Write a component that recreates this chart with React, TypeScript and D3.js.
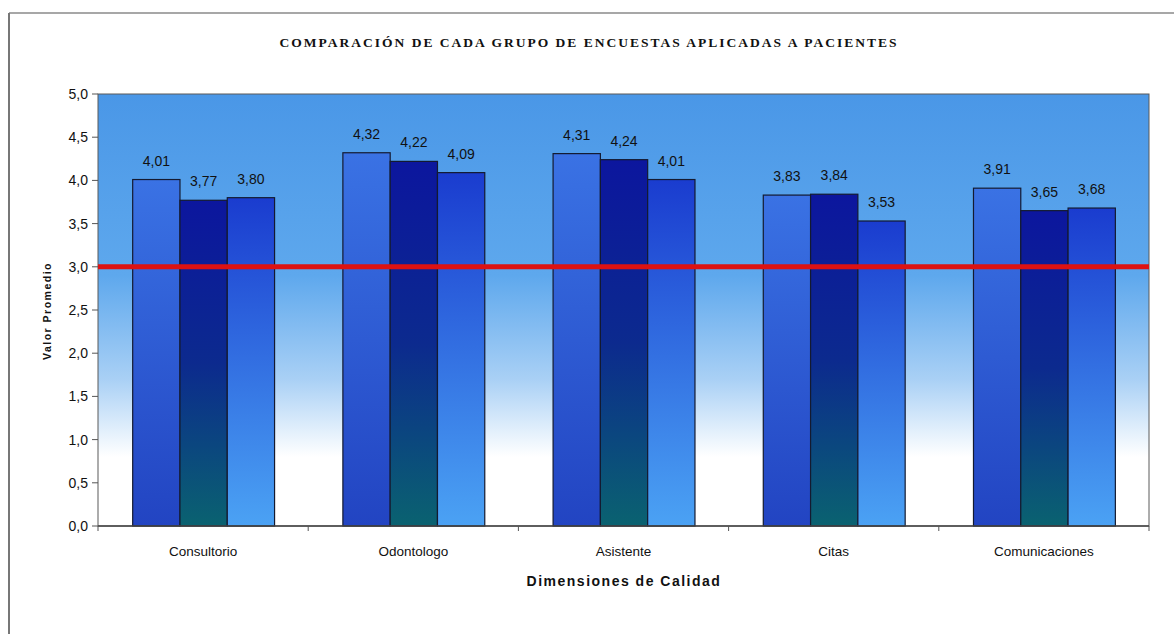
import React from "react";
import * as d3 from "d3";

// Survey dimensions and the average score of each survey group
const categories = ["Consultorio", "Odontologo", "Asistente", "Citas", "Comunicaciones"];
const seriesNames = ["Grupo 1", "Grupo 2", "Grupo 3"];
const grupo1 = [4.01, 4.32, 4.31, 3.83, 3.91];
const grupo2 = [3.77, 4.22, 4.24, 3.84, 3.65];
const grupo3 = [3.8, 4.09, 4.01, 3.53, 3.68];
const yTicks = [0, 0.5, 1, 1.5, 2, 2.5, 3, 3.5, 4, 4.5, 5];
const referenceValue = 3.0;

const W = 1174;
const H = 637;
const plot = { left: 98, right: 1149, top: 94, bottom: 526 };

// Vertical gradient stops per series (top -> bottom)
const barGradients = [
  [
    [0, "#3a72e4"],
    [1, "#2244c2"],
  ],
  [
    [0, "#0c169e"],
    [0.5, "#0c2a8e"],
    [1, "#0a6270"],
  ],
  [
    [0, "#1a3ccf"],
    [1, "#4ba2f4"],
  ],
];

const fmt = (v: number, digits: number) => v.toFixed(digits).replace(".", ",");

export default function App() {
  const values = [grupo1, grupo2, grupo3];
  const x0 = d3.scaleBand<string>().domain(categories).range([plot.left, plot.right]).padding(0);
  const step = x0.bandwidth();
  const x1 = d3
    .scaleBand<number>()
    .domain(seriesNames.map((_, i) => i))
    .range([step * 0.165, step * 0.84])
    .padding(0);
  const y = d3.scaleLinear().domain([0, 5]).range([plot.bottom, plot.top]);

  return (
    <svg
      width={W}
      height={H}
      style={{ position: "absolute", left: 0, top: 0, background: "#fff" }}
      fontFamily="Arial, 'Liberation Sans', sans-serif"
    >
      <defs>
        <linearGradient id="plotBg" x1="0" y1="0" x2="0" y2="1">
          <stop offset="0" stopColor="#4a97e7" />
          <stop offset="0.42" stopColor="#5ea8ed" />
          <stop offset="0.66" stopColor="#a9d0f5" />
          <stop offset="0.84" stopColor="#ffffff" />
          <stop offset="1" stopColor="#ffffff" />
        </linearGradient>
        {barGradients.map((stops, i) => (
          <linearGradient key={i} id={`bar${i}`} x1="0" y1="0" x2="0" y2="1">
            {stops.map(([o, c], j) => (
              <stop key={j} offset={o as number} stopColor={c as string} />
            ))}
          </linearGradient>
        ))}
      </defs>

      {/* chart frame */}
      <line x1={9} x2={W} y1={13} y2={13} stroke="#8a8a8a" strokeWidth={1.5} />
      <line x1={9} x2={9} y1={13} y2={634} stroke="#777" strokeWidth={2} />

      <text
        x={589}
        y={47}
        textAnchor="middle"
        fontFamily="'Liberation Serif', 'Times New Roman', serif"
        fontWeight="bold"
        fontSize={13.5}
        letterSpacing={2}
        fill="#111"
      >
        COMPARACIÓN DE CADA GRUPO DE ENCUESTAS APLICADAS A PACIENTES
      </text>

      {/* plot area */}
      <rect
        x={plot.left}
        y={plot.top}
        width={plot.right - plot.left}
        height={plot.bottom - plot.top}
        fill="url(#plotBg)"
        stroke="#5a5a5a"
        strokeWidth={1}
      />

      {/* y axis */}
      {yTicks.map((t) => (
        <g key={t}>
          <line x1={plot.left - 6} x2={plot.left} y1={y(t)} y2={y(t)} stroke="#555" />
          <text x={88} y={y(t) + 5} textAnchor="end" fontSize={14} fill="#111">
            {fmt(t, 1)}
          </text>
        </g>
      ))}
      <text
        transform={`translate(51,311) rotate(-90)`}
        textAnchor="middle"
        fontSize={10.5}
        fontWeight="bold"
        letterSpacing={1.5}
        fill="#111"
      >
        Valor Promedio
      </text>

      {/* bars */}
      {categories.map((c, ci) => (
        <g key={c} transform={`translate(${x0(c)},0)`}>
          {values.map((vals, si) => {
            const v = vals[ci];
            const bx = x1(si)!;
            const bw = x1.bandwidth();
            return (
              <g key={si}>
                <rect
                  x={bx}
                  y={y(v)}
                  width={bw}
                  height={y(0) - y(v)}
                  fill={`url(#bar${si})`}
                  stroke="#141a30"
                  strokeWidth={1.2}
                />
                <text x={bx + bw / 2} y={y(v) - 14} textAnchor="middle" fontSize={14} fill="#111">
                  {fmt(v, 2)}
                </text>
              </g>
            );
          })}
        </g>
      ))}

      {/* reference line */}
      <line
        x1={plot.left}
        x2={plot.right}
        y1={y(referenceValue)}
        y2={y(referenceValue)}
        stroke="#dd1212"
        strokeWidth={5}
      />

      {/* x axis */}
      <line x1={plot.left} x2={plot.right} y1={plot.bottom} y2={plot.bottom} stroke="#444" strokeWidth={1.5} />
      {categories.map((c, i) => (
        <line
          key={`t${i}`}
          x1={plot.left + step * i}
          x2={plot.left + step * i}
          y1={plot.bottom}
          y2={plot.bottom + 5}
          stroke="#555"
        />
      ))}
      <line x1={plot.right} x2={plot.right} y1={plot.bottom} y2={plot.bottom + 5} stroke="#555" />
      {categories.map((c) => (
        <text key={c} x={x0(c)! + step / 2} y={556} textAnchor="middle" fontSize={13.5} fill="#111">
          {c}
        </text>
      ))}
      <text x={624} y={586} textAnchor="middle" fontSize={14} fontWeight="bold" letterSpacing={1.5} fill="#111">
        Dimensiones de Calidad
      </text>
    </svg>
  );
}
